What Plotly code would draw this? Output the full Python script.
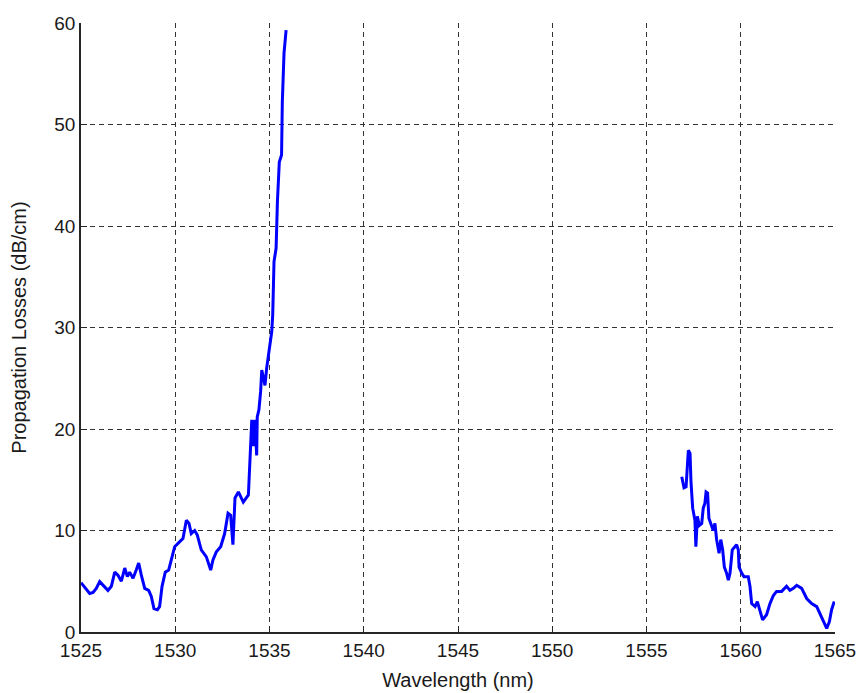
import plotly.graph_objects as go

# Short-wavelength branch: losses rising towards the absorption edge
wl_short = [1525.0, 1525.2, 1525.46, 1525.64, 1525.81, 1525.99, 1526.17, 1526.43, 1526.61,
            1526.79, 1526.96, 1527.14, 1527.32, 1527.46, 1527.58, 1527.76, 1527.93, 1528.06,
            1528.2, 1528.38, 1528.59, 1528.73, 1528.87, 1529.05, 1529.17, 1529.3, 1529.47,
            1529.65, 1529.79, 1529.97, 1530.24, 1530.41, 1530.59, 1530.73, 1530.85, 1531.03,
            1531.17, 1531.38, 1531.65, 1531.88, 1532.0, 1532.18, 1532.41, 1532.62, 1532.8,
            1532.94, 1533.06, 1533.1, 1533.17, 1533.35, 1533.61, 1533.88, 1533.93, 1534.0,
            1534.06, 1534.14, 1534.23, 1534.32, 1534.35, 1534.44, 1534.53, 1534.59, 1534.76,
            1534.85, 1534.99, 1535.12, 1535.17, 1535.24, 1535.35, 1535.42, 1535.52, 1535.64,
            1535.68, 1535.77, 1535.88]
loss_short = [4.86, 4.4, 3.8, 3.9, 4.3, 4.96, 4.6, 4.1, 4.5,
              5.9, 5.6, 5.0, 6.3, 5.45, 5.9, 5.3, 6.1, 6.8,
              5.6, 4.3, 4.1, 3.5, 2.3, 2.2, 2.5, 4.5, 5.9,
              6.1, 7.1, 8.4, 8.9, 9.2, 11.0, 10.7, 9.7, 10.0,
              9.55, 8.1, 7.4, 6.1, 7.1, 7.9, 8.4, 9.7, 11.7,
              11.5, 8.6, 10.7, 13.2, 13.8, 12.8, 13.5, 15.6, 17.6,
              20.9, 18.3, 20.9, 17.4, 21.2, 21.9, 23.7, 25.8, 24.3,
              26.0, 28.0, 29.6, 31.2, 36.5, 37.8, 42.4, 46.3, 47.0,
              52.2, 57.0, 59.3]

# Long-wavelength branch
wl_long = [1556.87, 1556.99, 1557.1, 1557.13, 1557.22, 1557.31, 1557.36, 1557.45, 1557.57,
           1557.62, 1557.7, 1557.8, 1557.93, 1558.01, 1558.1, 1558.16, 1558.24, 1558.31,
           1558.46, 1558.54, 1558.63, 1558.72, 1558.85, 1558.94, 1559.04, 1559.13, 1559.25,
           1559.34, 1559.43, 1559.48, 1559.55, 1559.69, 1559.78, 1559.87, 1559.91, 1560.05,
           1560.17, 1560.4, 1560.49, 1560.58, 1560.76, 1560.88, 1560.99, 1561.16, 1561.37,
           1561.55, 1561.73, 1561.9, 1562.17, 1562.43, 1562.61, 1562.79, 1562.97, 1563.23,
           1563.5, 1563.76, 1564.03, 1564.3, 1564.56, 1564.7, 1564.82, 1564.96]
loss_long = [15.3, 14.2, 14.3, 15.1, 17.9, 17.6, 14.8, 12.2, 11.0,
             8.4, 11.4, 10.5, 10.7, 12.2, 12.7, 13.8, 13.7, 11.2,
             10.5, 10.0, 10.7, 9.1, 7.75, 9.1, 8.1, 6.4, 5.8,
             5.1, 5.8, 7.1, 8.1, 8.4, 8.6, 8.1, 6.4, 5.8,
             5.45, 5.45, 4.5, 2.8, 2.5, 3.0, 2.2, 1.2, 1.7,
             2.8, 3.6, 4.0, 4.0, 4.5, 4.1, 4.3, 4.6, 4.3,
             3.3, 2.8, 2.5, 1.35, 0.36, 1.0, 2.2, 3.0]

x_ticks = [1525, 1530, 1535, 1540, 1545, 1550, 1555, 1560, 1565]
y_ticks = [0, 10, 20, 30, 40, 50, 60]

FONT = "Liberation Sans, Arial, sans-serif"

fig = go.Figure()
for xs, ys in ((wl_short, loss_short), (wl_long, loss_long)):
    fig.add_trace(go.Scatter(x=xs, y=ys, mode="lines",
                             line=dict(color="#0000ff", width=3),
                             showlegend=False, hoverinfo="x+y"))

axis_common = dict(
    showgrid=True, gridcolor="#333333", griddash="5px,4px", gridwidth=1,
    showline=True, linecolor="#262626", linewidth=1.5,
    ticks="inside", ticklen=6, tickcolor="#262626",
    zeroline=False, mirror=False, automargin=False,
    ticklabeloverflow="allow",
    tickfont=dict(family=FONT, size=19, color="#1a1a1a"),
)

fig.update_xaxes(range=[1525, 1565], tickvals=x_ticks,
                 title=dict(text="Wavelength (nm)", standoff=13,
                            font=dict(family=FONT, size=20, color="#1a1a1a")),
                 **axis_common)
fig.update_yaxes(range=[0, 60], tickvals=y_ticks,
                 title=dict(text="Propagation Losses (dB/cm)", standoff=22,
                            font=dict(family=FONT, size=20, color="#1a1a1a")),
                 **axis_common)

fig.update_layout(
    width=858, height=693,
    margin=dict(l=81, r=23, t=23, b=61),
    plot_bgcolor="white", paper_bgcolor="white",
)

fig.write_html("out.html")
